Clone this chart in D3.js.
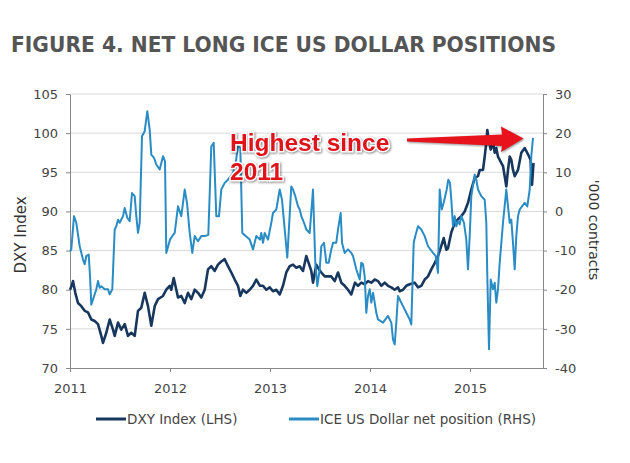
<!DOCTYPE html>
<html>
<head>
<meta charset="utf-8">
<script src="https://cdn.jsdelivr.net/npm/d3@7"></script>
<style>
  body { margin: 0; background: #fff; }
  svg { display: block; }
  text { font-family: "DejaVu Sans", Verdana, sans-serif; }
</style>
</head>
<body>
<div id="chart"></div>
<script>
// DXY index, weekly-ish readings (decimal year)
const dxyYears = [
  2011.000, 2011.017, 2011.030, 2011.053, 2011.080, 2011.113, 2011.147, 2011.180, 2011.213, 2011.247,
  2011.280, 2011.313, 2011.330, 2011.363, 2011.397, 2011.430, 2011.447, 2011.480, 2011.513, 2011.547,
  2011.580, 2011.613, 2011.647, 2011.680, 2011.713, 2011.747, 2011.780, 2011.813, 2011.847, 2011.880,
  2011.930, 2011.963, 2011.997, 2012.013, 2012.037, 2012.063, 2012.080, 2012.113, 2012.147, 2012.180,
  2012.213, 2012.247, 2012.280, 2012.313, 2012.347, 2012.380, 2012.413, 2012.447, 2012.480, 2012.513,
  2012.547, 2012.580, 2012.613, 2012.647, 2012.680, 2012.703, 2012.730, 2012.763, 2012.797, 2012.830,
  2012.863, 2012.900, 2012.930, 2012.963, 2012.997, 2013.030, 2013.063, 2013.097, 2013.130, 2013.163,
  2013.197, 2013.230, 2013.263, 2013.297, 2013.330, 2013.363, 2013.387, 2013.413, 2013.430, 2013.463,
  2013.480, 2013.513, 2013.547, 2013.580, 2013.613, 2013.647, 2013.680, 2013.713, 2013.747, 2013.780,
  2013.813, 2013.850, 2013.880, 2013.913, 2013.947, 2013.980, 2014.013, 2014.047, 2014.080, 2014.113,
  2014.147, 2014.180, 2014.213, 2014.247, 2014.280, 2014.297, 2014.330, 2014.363, 2014.397, 2014.447,
  2014.480, 2014.513, 2014.547, 2014.580, 2014.613, 2014.647, 2014.680, 2014.713, 2014.737, 2014.763,
  2014.780, 2014.813, 2014.847, 2014.880, 2014.913, 2014.947, 2014.980, 2015.013, 2015.047, 2015.080,
  2015.097, 2015.130, 2015.147, 2015.163, 2015.173, 2015.187, 2015.207, 2015.230, 2015.247, 2015.263,
  2015.280, 2015.297, 2015.330, 2015.347, 2015.363, 2015.380, 2015.397, 2015.413, 2015.430, 2015.447,
  2015.480, 2015.513, 2015.547, 2015.580, 2015.605, 2015.620, 2015.635
];
const dxyValues = [
  80.0, 80.5, 81.1, 79.6, 78.3, 77.9, 77.3, 77.1, 76.2, 76.0,
  75.6, 74.1, 73.2, 74.5, 76.2, 74.9, 74.1, 75.8, 74.9, 75.6,
  74.1, 74.5, 74.1, 77.3, 77.7, 79.6, 77.9, 75.4, 77.9, 78.8,
  79.2, 80.0, 80.5, 80.0, 81.5, 80.0, 79.0, 79.2, 78.3, 79.6,
  78.8, 80.0, 79.6, 79.0, 80.0, 82.6, 83.0, 82.4, 83.2, 83.6,
  83.9, 83.0, 82.2, 81.3, 80.5, 79.2, 80.0, 79.6, 80.0, 80.5,
  81.3, 80.5, 80.5, 80.0, 80.3, 79.8, 80.0, 79.4, 80.5, 82.2,
  83.0, 83.2, 82.8, 83.0, 82.4, 84.3, 83.4, 82.4, 80.9, 83.2,
  82.8, 82.2, 81.7, 81.7, 81.7, 81.1, 82.2, 80.9, 80.5, 80.0,
  79.4, 80.9, 80.5, 80.9, 80.7, 81.1, 80.9, 81.3, 81.1, 80.5,
  80.9, 80.5, 80.3, 80.0, 80.3, 79.8, 80.0, 80.5, 80.7, 80.9,
  80.3, 80.5, 81.3, 81.7, 82.6, 83.4, 84.3, 85.6, 86.6, 85.1,
  85.3, 87.3, 88.5, 89.0, 89.4, 90.0, 91.1, 92.8, 94.3, 94.5,
  95.3, 95.3, 97.0, 98.8, 100.4, 99.2, 97.9, 98.8, 97.5, 98.1,
  97.0, 96.6, 95.8, 94.5, 93.2, 95.3, 97.0, 96.6, 95.3, 94.5,
  95.3, 97.5, 98.1, 97.3, 96.6, 93.4, 96.2
];

// ICE US Dollar net position, '000 contracts
const iceYears = [
  2011.000, 2011.013, 2011.040, 2011.063, 2011.097, 2011.130, 2011.147, 2011.163, 2011.187, 2011.200,
  2011.213, 2011.230, 2011.263, 2011.280, 2011.297, 2011.313, 2011.347, 2011.380, 2011.397, 2011.423,
  2011.447, 2011.463, 2011.480, 2011.497, 2011.530, 2011.547, 2011.573, 2011.597, 2011.620, 2011.647,
  2011.663, 2011.680, 2011.697, 2011.720, 2011.747, 2011.773, 2011.797, 2011.813, 2011.840, 2011.863,
  2011.897, 2011.930, 2011.950, 2011.963, 2012.000, 2012.023, 2012.047, 2012.080, 2012.113, 2012.147,
  2012.170, 2012.197, 2012.223, 2012.247, 2012.280, 2012.313, 2012.347, 2012.383, 2012.413, 2012.437,
  2012.463, 2012.490, 2012.513, 2012.547, 2012.580, 2012.630, 2012.657, 2012.680, 2012.703, 2012.723,
  2012.757, 2012.797, 2012.830, 2012.863, 2012.900, 2012.913, 2012.930, 2012.947, 2012.980, 2013.013,
  2013.030, 2013.063, 2013.097, 2013.120, 2013.147, 2013.173, 2013.213, 2013.230, 2013.253, 2013.280,
  2013.297, 2013.313, 2013.340, 2013.363, 2013.397, 2013.430, 2013.453, 2013.473, 2013.497, 2013.513,
  2013.540, 2013.563, 2013.587, 2013.613, 2013.630, 2013.663, 2013.680, 2013.707, 2013.720, 2013.747,
  2013.780, 2013.813, 2013.830, 2013.863, 2013.897, 2013.913, 2013.930, 2013.947, 2013.963, 2013.980,
  2013.997, 2014.013, 2014.030, 2014.047, 2014.063, 2014.080, 2014.130, 2014.180, 2014.213, 2014.230,
  2014.247, 2014.263, 2014.280, 2014.297, 2014.330, 2014.363, 2014.397, 2014.413, 2014.437, 2014.453,
  2014.480, 2014.513, 2014.547, 2014.580, 2014.630, 2014.657, 2014.680, 2014.697, 2014.717, 2014.737,
  2014.767, 2014.783, 2014.800, 2014.813, 2014.830, 2014.847, 2014.863, 2014.880, 2014.897, 2014.913,
  2014.940, 2014.963, 2014.980, 2014.997, 2015.013, 2015.047, 2015.063, 2015.080, 2015.113, 2015.147,
  2015.163, 2015.173, 2015.190, 2015.207, 2015.230, 2015.247, 2015.263, 2015.280, 2015.297, 2015.330,
  2015.363, 2015.380, 2015.397, 2015.413, 2015.430, 2015.447, 2015.463, 2015.480, 2015.497, 2015.520,
  2015.547, 2015.573, 2015.597, 2015.613, 2015.630
];
const iceValues = [
  -10.2, -9.7, -1.2, -2.9, -8.9, -12.3, -13.5, -11.4, -11.0, -16.5,
  -23.8, -22.5, -19.9, -17.8, -19.5, -19.1, -19.9, -19.9, -21.2, -19.9,
  -4.6, -3.8, -2.1, -2.9, -1.2, 0.9, -1.6, -2.5, 4.7, 3.9,
  -1.2, -5.5, -2.9, 19.2, 20.5, 25.6, 20.9, 14.5, 13.7, 12.0,
  10.7, 14.1, 12.8, -10.6, -7.2, -6.3, -5.5, 1.3, -1.2, 5.6,
  2.2, -5.5, -10.6, -6.3, -7.6, -6.3, -6.3, -6.0, 16.6, 17.5,
  -1.2, -1.2, 5.6, 7.3, 8.1, 9.8, 12.4, 16.6, 16.2, -5.5,
  -6.3, -7.2, -9.7, -6.3, -7.2, -5.5, -8.0, -5.5, -7.2, -2.9,
  -0.4, 0.5, 5.6, 3.0, -4.6, -11.8, 6.4, 5.6, 3.9, 1.3,
  0.5, -1.2, -2.9, -4.6, -5.5, 5.6, -13.1, -19.1, -14.8, -8.9,
  -8.0, -13.1, -13.1, -9.7, -8.0, -8.0, -4.6, -0.4, -8.0, -10.6,
  -9.7, -10.6, -11.4, -14.8, -17.4, -13.1, -13.5, -16.5, -25.9, -21.6,
  -19.9, -23.3, -20.8, -23.3, -25.9, -27.6, -28.4, -26.7, -28.4, -32.7,
  -34.0, -28.4, -21.6, -22.5, -24.2, -25.9, -27.6, -28.9, -8.0, -6.3,
  -3.8, -4.6, -6.3, -8.9, -10.6, -11.4, -15.7, 5.6, 0.5, 2.2,
  5.6, 8.1, 7.3, 3.0, -3.8, -1.2, -3.8, -2.5, -3.3, -1.2,
  -2.9, -7.2, -14.8, -6.3, 3.9, 9.4, 8.1, 5.6, 3.9, 3.0,
  -2.9, -16.5, -35.2, -17.4, -19.9, -18.2, -23.3, -19.9, -13.1, -2.9,
  5.6, 1.3, -2.9, -2.1, -8.0, -14.8, -6.3, -1.2, 0.5, 1.3,
  2.2, 1.3, 5.6, 14.1, 18.8
];

const yearTicks = [2011, 2012, 2013, 2014, 2015];
const leftTicks = [70, 75, 80, 85, 90, 95, 100, 105];
const rightTicks = [-40, -30, -20, -10, 0, 10, 20, 30];
const seriesNames = ["DXY Index (LHS)", "ICE US Dollar net position (RHS)"];

const W = 630, H = 463;
const plot = {left: 70, right: 543, top: 94, bottom: 368};
const dxyColor = "#17375e", iceColor = "#2a8cc4";
const axisColor = "#888", labelColor = "#444";

const svg = d3.select("#chart").append("svg")
    .attr("width", W)
    .attr("height", H);

const x = d3.scaleLinear().domain([2011, 2015.73]).range([plot.left, plot.right]);
const yL = d3.scaleLinear().domain([70, 105]).range([plot.bottom, plot.top]);
const yR = d3.scaleLinear().domain([-40, 30]).range([plot.bottom, plot.top]);

// title
svg.append("text")
    .attr("x", 11).attr("y", 52)
    .attr("textLength", 545).attr("lengthAdjust", "spacingAndGlyphs")
    .style("font-size", "21px").style("font-weight", "bold")
    .attr("fill", "#555")
    .text("FIGURE 4. NET LONG ICE US DOLLAR POSITIONS");

// gridlines
svg.append("g").selectAll("line")
    .data(leftTicks.slice(1))
    .enter().append("line")
    .attr("x1", plot.left).attr("x2", plot.right)
    .attr("y1", d => yL(d)).attr("y2", d => yL(d))
    .attr("stroke", "#d9d9d9").attr("stroke-width", 1);

function styleAxis(g) {
    g.select(".domain").attr("stroke", axisColor);
    g.selectAll(".tick line").attr("stroke", axisColor);
    g.selectAll(".tick text").attr("fill", labelColor).style("font-size", "13px")
        .style("font-family", '"DejaVu Sans", Verdana, sans-serif');
}

svg.append("g")
    .attr("transform", `translate(${plot.left},0)`)
    .call(d3.axisLeft(yL).tickValues(leftTicks).tickSize(4).tickSizeOuter(0).tickPadding(8))
    .call(styleAxis);

svg.append("g")
    .attr("transform", `translate(${plot.right},0)`)
    .call(d3.axisRight(yR).tickValues(rightTicks).tickSize(4).tickSizeOuter(0).tickPadding(8)
        .tickFormat(d => String(d)))
    .call(styleAxis);

svg.append("g")
    .attr("transform", `translate(0,${plot.bottom})`)
    .call(d3.axisBottom(x).tickValues(yearTicks).tickSize(4).tickSizeOuter(0).tickPadding(12)
        .tickFormat(d => String(d)))
    .call(styleAxis);

// axis titles
svg.append("text")
    .attr("transform", "translate(21,235) rotate(-90)")
    .attr("text-anchor", "middle").attr("dy", "0.35em")
    .style("font-size", "15px").attr("fill", "#333")
    .text("DXY Index");

svg.append("text")
    .attr("transform", "translate(594,230) rotate(90)")
    .attr("text-anchor", "middle").attr("dy", "0.35em")
    .style("font-size", "14px").attr("fill", "#333")
    .text("'000 contracts");

// lines
const dxyData = dxyYears.map((t, i) => [t, dxyValues[i]]);
const iceData = iceYears.map((t, i) => [t, iceValues[i]]);

svg.append("path")
    .datum(dxyData)
    .attr("fill", "none").attr("stroke", dxyColor).attr("stroke-width", 2.6)
    .attr("stroke-linejoin", "round")
    .attr("d", d3.line().x(d => x(d[0])).y(d => yL(d[1])));

svg.append("path")
    .datum(iceData)
    .attr("fill", "none").attr("stroke", iceColor).attr("stroke-width", 2)
    .attr("stroke-linejoin", "round")
    .attr("d", d3.line().x(d => x(d[0])).y(d => yR(d[1])));

// annotation: arrow + text
const note = svg.append("g").style("filter", "drop-shadow(1px 1px 1px rgba(0,0,0,0.45))");

note.append("path")
    .attr("d", "M407,138.5 L502,134.5 L501,126.5 L523.5,138.5 L501,152 L502,146 L407,141.5 Z")
    .attr("fill", "#e8121c");

note.selectAll("text.note")
    .data(["Highest since", "2011"])
    .enter().append("text")
    .attr("class", "note")
    .attr("x", 230).attr("y", (d, i) => 151 + i * 29)
    .style("font-family", '"Liberation Sans", Arial, sans-serif')
    .style("font-size", "24.5px").style("font-weight", "bold")
    .attr("fill", "#e0131b")
    .attr("stroke", "#fff").attr("stroke-width", 3).attr("paint-order", "stroke")
    .text(d => d);

// legend
const legend = svg.append("g");
const legendX = [96, 289];
[dxyColor, iceColor].forEach((c, i) => {
    legend.append("line")
        .attr("x1", legendX[i]).attr("x2", legendX[i] + 30)
        .attr("y1", 419).attr("y2", 419)
        .attr("stroke", c).attr("stroke-width", 3);
    legend.append("text")
        .attr("x", legendX[i] + 31).attr("y", 419).attr("dy", "0.35em")
        .style("font-size", "13.5px").attr("fill", labelColor)
        .text(seriesNames[i]);
});
</script>
</body>
</html>
